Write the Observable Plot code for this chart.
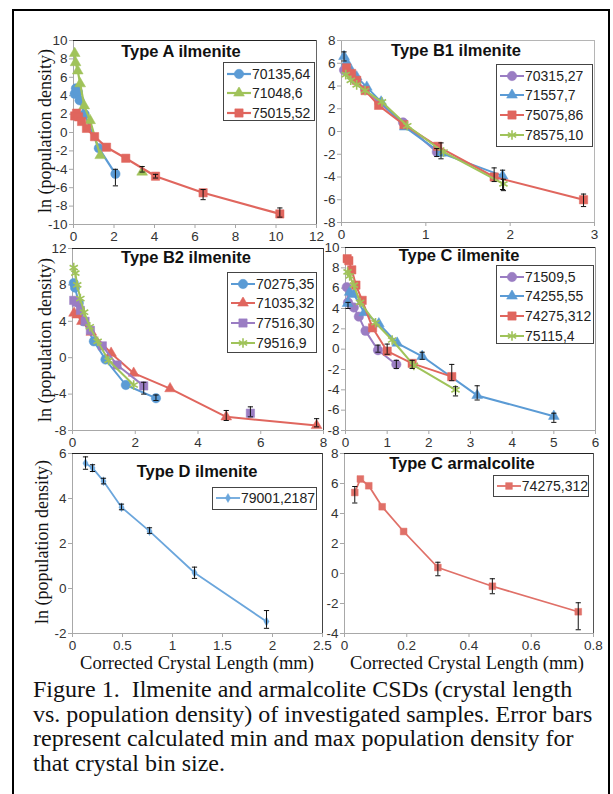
<!DOCTYPE html>
<html><head><meta charset="utf-8">
<script src="https://cdn.jsdelivr.net/npm/d3@7"></script>
<script src="https://cdn.jsdelivr.net/npm/@observablehq/plot@0.6"></script>
<style>
body{margin:0;background:#fff;}
#fig{position:relative;width:613px;height:794px;overflow:hidden;font-family:"Liberation Sans",Arial,sans-serif;background:#fff;}
#border{position:absolute;left:12px;top:9px;width:594px;height:820px;border:2px solid #000;}
.title{position:absolute;font-weight:bold;font-size:16.5px;transform:translate(-50%,-50%);white-space:nowrap;color:#111;}
.ylab{position:absolute;font-family:"Liberation Serif",serif;font-size:18px;transform:translate(-50%,-50%) rotate(-90deg);white-space:nowrap;color:#111;}
.xlab{position:absolute;font-family:"Liberation Serif",serif;font-size:18.5px;transform:translate(-50%,-50%);white-space:nowrap;color:#111;}
.legend{position:absolute;border:1.5px solid #444;background:#fff;box-sizing:border-box;padding:1px 0 0 3px;}
.legend .row{display:flex;align-items:center;height:19.6px;font-size:14px;color:#222;white-space:nowrap;}
.legend svg{display:block;margin-right:1px;}
#caption{position:absolute;left:33px;top:677px;font-family:"Liberation Serif",serif;font-size:24px;line-height:24.5px;color:#111;white-space:nowrap;}
</style></head>
<body>
<div id="fig"><div id="border"></div></div>
<script>
// ---------- DATA ----------
// Type A ilmenite
const A_70135_64 = [[0.06,4.2],[0.12,4.8],[0.22,4.4],[0.3,3.5],[0.55,2.0],[1.25,-1.7],[2.07,-4.5]];
const A_71048_6  = [[0.06,8.6],[0.1,7.6],[0.21,6.7],[0.33,5.3],[0.53,2.9],[0.82,1.3],[1.32,-2.5],[null,null],[3.39,-4.3]];
const A_75015_52 = [[0.06,1.8],[0.15,2.1],[0.25,1.7],[0.4,1.2],[0.64,0.45],[1.04,-0.45],[1.63,-1.6],[2.58,-2.8],[4.05,-4.75],[6.4,-6.55],[10.19,-8.85]];
const errA = [[2.07,-5.8,-4.0],[3.39,-4.3,-3.7],[4.05,-4.95,-4.55],[6.4,-7.3,-6.2],[10.19,-9.2,-8.2]];
// Type B1 ilmenite
const B1_70315_27 = [[0.03,5.4],[0.08,5.2],[0.15,4.6],[0.28,3.7],[0.45,2.5],[0.73,0.8],[1.13,-1.8]];
const B1_71557_7  = [[0.03,6.6],[0.06,6.1],[0.12,5.3],[0.18,4.8],[0.3,3.9],[0.47,2.6],[0.75,0.4],[1.18,-1.9],[1.91,-3.9]];
const B1_75075_86 = [[0.06,5.6],[0.12,5.1],[0.18,4.5],[0.28,3.6],[0.44,2.3],[0.74,0.6],[1.14,-1.3],[1.81,-4.0],[2.87,-6.0]];
const B1_78575_10 = [[0.05,5.0],[0.11,4.5],[0.18,4.1],[0.28,3.6],[0.48,2.6],[0.78,0.5],[1.21,-1.8],[1.92,-4.6]];
const errB1 = [[0.03,6.2,7.0],[1.13,-2.2,-1.5],[1.18,-2.4,-1.0],[1.81,-4.4,-3.2],[1.91,-5.1,-3.4],[1.92,-5.2,-4.2],[2.87,-6.6,-5.5]];
// Type B2 ilmenite
const B2_70275_35 = [[0.04,8.2],[0.08,7.7],[0.2,6.0],[0.35,4.0],[0.68,1.8],[1.05,-0.2],[1.7,-3.0],[2.66,-4.45]];
const B2_71035_32 = [[0.05,4.9],[0.15,4.7],[0.3,4.0],[0.6,2.8],[1.23,0.5],[1.95,-1.7],[3.11,-3.4],[4.9,-6.5],[7.78,-7.45]];
const B2_77516_30 = [[0.04,6.3],[0.12,6.1],[0.25,5.2],[0.4,4.0],[0.57,3.0],[0.95,1.3],[1.42,-0.8],[2.27,-3.1],[null,null],[5.67,-6.1]];
const B2_79516_9  = [[0.04,9.9],[0.09,9.3],[0.15,8.0],[0.25,6.5],[0.37,5.0],[0.55,3.4],[0.8,1.8],[1.15,-0.3],[1.95,-3.0]];
const errB2 = [[2.27,-4.0,-2.7],[2.66,-4.7,-4.1],[4.9,-6.9,-5.8],[5.67,-6.5,-5.4],[7.78,-7.6,-6.7]];
// Type C ilmenite
const C_71509_5   = [[0.03,6.1],[0.06,4.6],[0.2,4.1],[0.32,3.2],[0.48,1.8],[0.78,-0.1],[1.22,-1.5]];
const C_74255_55  = [[0.05,4.5],[0.1,5.6],[0.2,5.4],[0.45,3.6],[0.8,2.5],[1.24,0.6],[1.84,-0.7],[3.16,-4.55],[5.0,-6.6]];
const C_74275_312 = [[0.04,8.9],[0.08,8.7],[0.15,7.8],[0.25,6.3],[0.4,4.8],[0.65,2.1],[1.0,-0.2],[1.6,-1.4],[2.55,-2.7]];
const C_75115_4   = [[0.05,7.6],[0.1,7.2],[0.2,6.3],[0.35,4.6],[0.72,2.6],[1.12,0.9],[1.64,-1.6],[2.64,-4.0]];
const errC = [[0.06,4.0,4.6],[0.78,-0.3,0.4],[1.0,-0.5,0.5],[1.22,-1.9,-1.1],[1.6,-1.9,-1.1],[1.84,-1.0,-0.3],[2.55,-3.1,-1.5],[2.64,-4.6,-3.7],[3.16,-5.0,-3.6],[5.0,-7.2,-6.3]];
// Type D ilmenite
const D_79001_2187 = [[0.13,5.57],[0.2,5.36],[0.31,4.77],[0.49,3.61],[0.77,2.55],[1.22,0.7],[1.94,-1.47]];
const errD = [[0.13,5.3,5.85],[0.2,5.2,5.5],[0.31,4.65,4.9],[0.49,3.5,3.75],[0.77,2.45,2.7],[1.22,0.45,0.95],[1.94,-1.77,-0.98]];
// Type C armalcolite
const Arm_74275_312 = [[0.033,5.4],[0.051,6.3],[0.078,5.85],[0.121,4.45],[0.19,2.8],[0.30,0.4],[0.475,-0.85],[0.751,-2.55]];
const errArm = [[0.033,4.7,5.8],[0.30,-0.15,0.75],[0.475,-1.35,-0.35],[0.751,-3.75,-1.95]];

// tick values
const ticksA  = {x:[0,2,4,6,8,10,12], y:[-10,-8,-6,-4,-2,0,2,4,6,8,10]};
const ticksB1 = {x:[0,1,2,3], y:[-8,-6,-4,-2,0,2,4,6,8]};
const ticksB2 = {x:[0,2,4,6,8], y:[-8,-4,0,4,8,12]};
const ticksC  = {x:[0,1,2,3,4,5,6], y:[-8,-6,-4,-2,0,2,4,6,8,10]};
const ticksD  = {x:[0,0.5,1,1.5,2,2.5], y:[-2,0,2,4,6]};
const ticksArm= {x:[0,0.2,0.4,0.6,0.8], y:[-4,-2,0,2,4,6,8]};

// ---------- STYLE ----------
const BLUE="#5b9bd5", RED="#e0665e", GREEN="#a0c35a", PURPLE="#9a7dc3";
const D3SYM = {circle:d3.symbolCircle, triangle:d3.symbolTriangle, square:d3.symbolSquare, asterisk:d3.symbolAsterisk, diamond:d3.symbolDiamond};
const SYMR = {circle:4.7, triangle:4.0, square:4.7, asterisk:4.5, diamond:2.7};
const CAP = {draw(ctx){ctx.moveTo(-2.6,0); ctx.lineTo(2.6,0);}};
const fmt = d => String(d);

const panels = [
  {title:"Type A ilmenite", tpos:[181,51], box:[73,40,316,224], xdom:[0,12], ydom:[-10,10], ticks:ticksA, errors:errA, sw:2.2, top:"#222", right:"#666",
   series:[{name:"70135,64",data:A_70135_64,color:BLUE,symbol:"circle"},{name:"71048,6",data:A_71048_6,color:GREEN,symbol:"triangle"},{name:"75015,52",data:A_75015_52,color:RED,symbol:"square"}],
   legend:[223,62,92,59]},
  {title:"Type B1 ilmenite", tpos:[456,50], box:[341,40,594,222], xdom:[0,3], ydom:[-8,8], ticks:ticksB1, errors:errB1, sw:2.0, top:"#b5b5b5", right:"#b5b5b5",
   series:[{name:"70315,27",data:B1_70315_27,color:PURPLE,symbol:"circle"},{name:"71557,7",data:B1_71557_7,color:BLUE,symbol:"triangle"},{name:"75075,86",data:B1_75075_86,color:RED,symbol:"square"},{name:"78575,10",data:B1_78575_10,color:GREEN,symbol:"asterisk"}],
   legend:[496,64,97,83]},
  {title:"Type B2 ilmenite", tpos:[186,257], box:[72,248,323,430], xdom:[0,8], ydom:[-8,12], ticks:ticksB2, errors:errB2, sw:2.0, top:"#222", right:"#444",
   series:[{name:"70275,35",data:B2_70275_35,color:BLUE,symbol:"circle"},{name:"71035,32",data:B2_71035_32,color:RED,symbol:"triangle"},{name:"77516,30",data:B2_77516_30,color:PURPLE,symbol:"square"},{name:"79516,9",data:B2_79516_9,color:GREEN,symbol:"asterisk"}],
   legend:[227,272,90,81]},
  {title:"Type C ilmenite", tpos:[459,255], box:[345,247,595,430], xdom:[0,6], ydom:[-8,10], ticks:ticksC, errors:errC, sw:2.0, top:"#222", right:"#999",
   series:[{name:"71509,5",data:C_71509_5,color:PURPLE,symbol:"circle"},{name:"74255,55",data:C_74255_55,color:BLUE,symbol:"triangle"},{name:"74275,312",data:C_74275_312,color:RED,symbol:"square"},{name:"75115,4",data:C_75115_4,color:GREEN,symbol:"asterisk"}],
   legend:[496,265,98,79]},
  {title:"Type D ilmenite", tpos:[197,471], box:[72,453,322,633], xdom:[0,2.5], ydom:[-2,6], ticks:ticksD, errors:errD, sw:1.8, top:"#222", right:"#444",
   series:[{name:"79001,2187",data:D_79001_2187,color:"#6ba6dc",symbol:"diamond"}],
   legend:[212,487,105,23]},
  {title:"Type C armalcolite", tpos:[462,463], box:[344,453,593,633], xdom:[0,0.8], ydom:[-4,8], ticks:ticksArm, errors:errArm, sw:1.8, top:"#222", right:"#555",
   series:[{name:"74275,312",data:Arm_74275_312,color:"#e07068",symbol:"square",r:3.8}],
   legend:[493,475,96,22]}
];

const fig = document.getElementById("fig");

function makePanel(p){
  const [x0,y0,x1,y1] = p.box;
  const ml=45, mt=14, mr=20, mb=28;
  const marks = [
    Plot.ruleX([p.xdom[0]], {stroke:"#a8a8a8"}),
    Plot.ruleY([p.ydom[0]], {stroke:"#a8a8a8"}),
    Plot.ruleY([p.ydom[1]], {stroke:p.top}),
    Plot.ruleX([p.xdom[1]], {stroke:p.right}),
    Plot.axisX({ticks:p.ticks.x, tickSize:4, tickPadding:3, stroke:"#a8a8a8", fill:"#333", tickFormat:fmt, label:null}),
    Plot.axisY({ticks:p.ticks.y, tickSize:4, tickPadding:2, stroke:"#a8a8a8", fill:"#333", tickFormat:fmt, label:null})
  ];
  for (const s of p.series){
    marks.push(Plot.line(s.data, {x:d=>d[0], y:d=>d[1], stroke:s.color, strokeWidth:p.sw}));
    const r = s.r ?? SYMR[s.symbol];
    const strokeOnly = s.symbol === "asterisk";
    marks.push(Plot.dot(s.data, {x:d=>d[0], y:d=>d[1], symbol:s.symbol, r,
      fill: strokeOnly ? "none" : s.color, stroke: s.color, strokeWidth: strokeOnly ? 1.6 : 0.5}));
  }
  marks.push(Plot.ruleX(p.errors, {x:d=>d[0], y1:d=>d[1], y2:d=>d[2], stroke:"#111", strokeWidth:1}));
  marks.push(Plot.dot(p.errors, {x:d=>d[0], y:d=>d[1], symbol:CAP, stroke:"#111", fill:"none", strokeWidth:1}));
  marks.push(Plot.dot(p.errors, {x:d=>d[0], y:d=>d[2], symbol:CAP, stroke:"#111", fill:"none", strokeWidth:1}));

  const svg = Plot.plot({
    width: x1-x0+ml+mr, height: y1-y0+mt+mb,
    marginLeft:ml, marginTop:mt, marginRight:mr, marginBottom:mb,
    x:{domain:p.xdom, nice:false}, y:{domain:p.ydom, nice:false},
    style:{background:"transparent", fontFamily:"'Liberation Sans', Arial, sans-serif", fontSize:"13.5px", overflow:"visible", maxWidth:"none"},
    marks
  });
  svg.style.position="absolute";
  svg.style.left=(x0-ml)+"px";
  svg.style.top=(y0-mt)+"px";
  fig.appendChild(svg);

  const t = document.createElement("div");
  t.className="title"; t.textContent=p.title;
  t.style.left=p.tpos[0]+"px"; t.style.top=p.tpos[1]+"px";
  fig.appendChild(t);

  const [lx,ly,lw,lh] = p.legend;
  const lg = document.createElement("div");
  lg.className="legend";
  Object.assign(lg.style,{left:lx+"px",top:ly+"px",width:lw+"px",height:lh+"px"});
  if (p.series.length===1){ lg.style.padding="0 0 0 3px"; }
  for (const s of p.series){
    const row=document.createElement("div"); row.className="row";
    if (p.series.length===1) row.style.height=(lh-3)+"px";
    const r = s.r ?? SYMR[s.symbol];
    const strokeOnly = s.symbol === "asterisk";
    const path = d3.symbol(D3SYM[s.symbol], Math.PI*r*r)();
    row.innerHTML = `<svg width="24" height="12"><line x1="0" x2="24" y1="6" y2="6" stroke="${s.color}" stroke-width="${p.sw}"/>`+
      `<path transform="translate(12,6)" d="${path}" fill="${strokeOnly?'none':s.color}" stroke="${s.color}" stroke-width="${strokeOnly?1.6:0.5}"/></svg><span>${s.name}</span>`;
    lg.appendChild(row);
  }
  fig.appendChild(lg);
}
panels.forEach(makePanel);

// axis titles
const yLabels = [[45,131],[45,340],[42,542]];
for (const [x,y] of yLabels){
  const d=document.createElement("div"); d.className="ylab"; d.textContent="ln (population density)";
  d.style.left=x+"px"; d.style.top=y+"px"; fig.appendChild(d);
}
const xLabels = [[197,663],[467,663]];
for (const [x,y] of xLabels){
  const d=document.createElement("div"); d.className="xlab"; d.textContent="Corrected Crystal Length (mm)";
  d.style.left=x+"px"; d.style.top=y+"px"; fig.appendChild(d);
}
const captionLines = [
  "Figure 1.\u00a0 Ilmenite and armalcolite CSDs (crystal length",
  "vs. population density) of investigated samples. Error bars",
  "represent calculated min and max population density for",
  "that crystal bin size."
];
const cap=document.createElement("div"); cap.id="caption";
cap.innerHTML = captionLines.join("<br>");
fig.appendChild(cap);
</script>
</body></html>
